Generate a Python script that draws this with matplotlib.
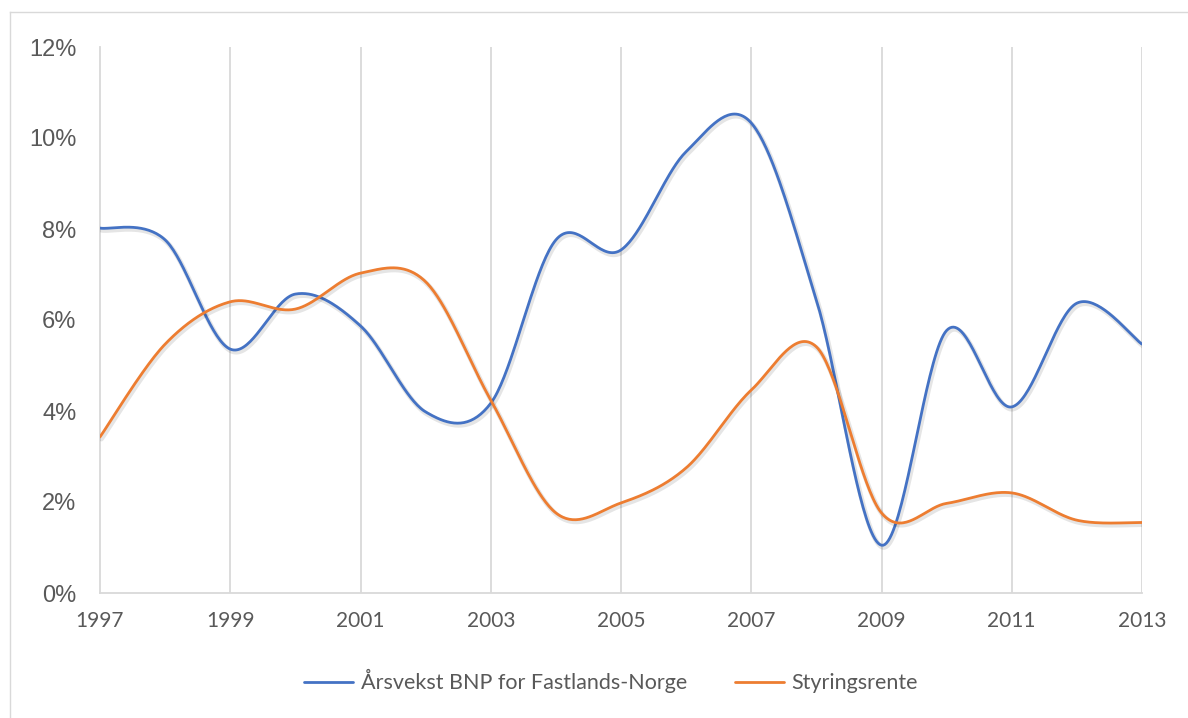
import numpy as np
import matplotlib
matplotlib.use("Agg")
import matplotlib.pyplot as plt
import matplotlib.patheffects as pe
from matplotlib.lines import Line2D

# Yearly data, in percent
years = list(range(1997, 2014))
bnp_vekst = [8.02, 7.76, 5.36, 6.57, 5.87, 3.98, 4.17, 7.76, 7.54, 9.70,
             10.33, 6.44, 1.05, 5.77, 4.09, 6.37, 5.47]
styringsrente = [3.43, 5.47, 6.40, 6.24, 7.03, 6.84, 4.24, 1.76, 1.98, 2.75,
                 4.46, 5.41, 1.76, 1.97, 2.20, 1.60, 1.55]
series_names = ["Årsvekst BNP for Fastlands-Norge", "Styringsrente"]
series_colors = ["#4472C4", "#ED7D31"]
y_ticks = [0, 2, 4, 6, 8, 10, 12]


def smooth(x, y, n=40):
    # Catmull-Rom style smoothing, drawn as cubic Bezier pieces through every point
    x = np.asarray(x, float)
    y = np.asarray(y, float)
    px = np.concatenate([[x[0]], x, [x[-1]]])
    py = np.concatenate([[y[0]], y, [y[-1]]])
    out_x, out_y = [], []
    t = np.linspace(0, 1, n)
    for i in range(1, len(px) - 2):
        p0 = np.array([px[i], py[i]])
        p3 = np.array([px[i + 1], py[i + 1]])
        c1 = p0 + (np.array([px[i + 1], py[i + 1]]) - np.array([px[i - 1], py[i - 1]])) / 6
        c2 = p3 - (np.array([px[i + 2], py[i + 2]]) - np.array([px[i], py[i]])) / 6
        pts = (((1 - t) ** 3)[:, None] * p0 + (3 * (1 - t) ** 2 * t)[:, None] * c1
               + (3 * (1 - t) * t ** 2)[:, None] * c2 + (t ** 3)[:, None] * p3)
        out_x.extend(pts[:, 0])
        out_y.extend(pts[:, 1])
    return np.array(out_x), np.array(out_y)


fig = plt.figure(figsize=(11.88, 7.18), dpi=100)
ax = fig.add_axes([100 / 1188, 125 / 718, 1042 / 1188, 546 / 718])

text_color = "#595959"
grid_color = "#D9D9D9"

shadow = [pe.SimpleLineShadow(offset=(1.0, -1.5), shadow_color="#000000", alpha=0.10, linewidth=3.5),
          pe.Normal()]

for vals, name, col in zip([bnp_vekst, styringsrente], series_names, series_colors):
    sx, sy = smooth(years, vals)
    ax.plot(sx, sy, color=col, lw=2.0, label=name, path_effects=shadow,
            solid_capstyle="round", zorder=3)

ax.set_xlim(years[0], years[-1])
ax.set_ylim(0, 12)
ax.set_yticks(y_ticks)
ax.set_yticklabels([f"{v}%" for v in y_ticks])
ax.set_xticks(years[::2])
ax.set_xticklabels([str(y) for y in years[::2]])

for yr in years[2::2]:
    ax.axvline(yr, color=grid_color, lw=1.3, zorder=1)

for side in ["top", "right"]:
    ax.spines[side].set_visible(False)
for side in ["left", "bottom"]:
    ax.spines[side].set_color(grid_color)
    ax.spines[side].set_linewidth(1.3)

ax.tick_params(length=0, labelcolor=text_color)
ax.tick_params(axis="y", labelsize=17, pad=17)
ax.tick_params(axis="x", labelsize=15, pad=13)
for lbl in ax.get_yticklabels():
    lbl.set_family("Liberation Sans")
for lbl in ax.get_xticklabels():
    lbl.set_family("Lato")

# Chart area frame
fig.add_artist(Line2D([10 / 1188, 10 / 1188], [0, 1 - 12 / 718], transform=fig.transFigure,
                      color=grid_color, lw=1.0))
fig.add_artist(Line2D([10 / 1188, 1], [1 - 12 / 718, 1 - 12 / 718], transform=fig.transFigure,
                      color=grid_color, lw=1.0))

leg = fig.legend(loc="center", bbox_to_anchor=(611 / 1188, 1 - 681 / 718), ncol=2, frameon=False,
                 prop={"family": "Lato", "size": 15.5}, handlelength=2.3, columnspacing=2.2,
                 handletextpad=0.35)
for txt in leg.get_texts():
    txt.set_color(text_color)
for h in leg.get_lines():
    h.set_path_effects([])
    h.set_linewidth(2.0)

fig.savefig("out.png", dpi=100, facecolor="white")
